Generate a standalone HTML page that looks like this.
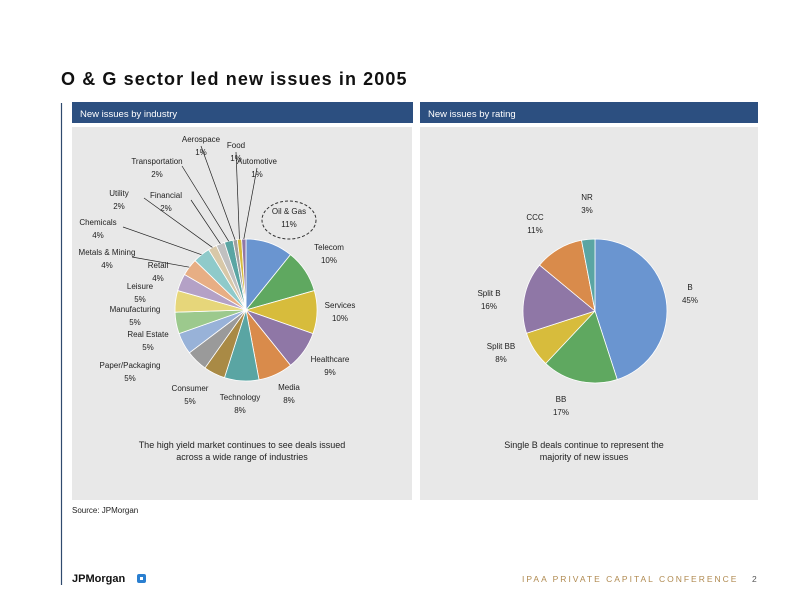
<!DOCTYPE html>
<html><head><meta charset="utf-8"><style>
body{margin:0;width:792px;height:612px;background:#fff;font-family:"Liberation Sans",sans-serif;position:relative;overflow:hidden}
svg{position:absolute;left:0;top:0}
</style></head><body>
<svg id="s" width="792" height="612" xmlns="http://www.w3.org/2000/svg" font-family="Liberation Sans, sans-serif">
<text x="61" y="85" font-size="18" font-weight="bold" letter-spacing="1.1" fill="#111">O &amp; G sector led new issues in 2005</text>
<line x1="61.5" y1="103" x2="61.5" y2="585" stroke="#2f4a6e" stroke-width="1.2"/>
<rect x="72" y="102" width="341" height="21" fill="#2c4f80"/>
<text x="80" y="117" font-size="9.5" fill="#fff">New issues by industry</text>
<rect x="72" y="127" width="340" height="373" fill="#e8e8e8"/>
<rect x="420" y="102" width="338" height="21" fill="#2c4f80"/>
<text x="428" y="117" font-size="9.5" fill="#fff">New issues by rating</text>
<rect x="420" y="127" width="338" height="373" fill="#e8e8e8"/>
<g id="left"></g><g id="right"></g>
<ellipse cx="289" cy="220" rx="27" ry="19" fill="none" stroke="#333" stroke-dasharray="3,2"/>
<text x="242" y="448" font-size="9" text-anchor="middle" fill="#222">The high yield market continues to see deals issued</text>
<text x="242" y="460" font-size="9" text-anchor="middle" fill="#222">across a wide range of industries</text>
<text x="584" y="448" font-size="9" text-anchor="middle" fill="#222">Single B deals continue to represent the</text>
<text x="584" y="460" font-size="9" text-anchor="middle" fill="#222">majority of new issues</text>
<text x="72" y="513" font-size="8" fill="#222">Source: JPMorgan</text>
<text x="72" y="582" font-size="11" font-weight="bold" fill="#111">JPMorgan</text>
<rect x="137" y="574" width="9" height="9" rx="2" fill="#2a7fd0"/><rect x="140" y="577" width="3" height="3" fill="#fff"/>
<text x="522" y="582" font-size="8.5" letter-spacing="2" fill="#b08a50">IPAA PRIVATE CAPITAL CONFERENCE</text>
<text x="752" y="582" font-size="8.5" fill="#555">2</text>
</svg>
<script>
const indCats=["Oil & Gas","Telecom","Services","Healthcare","Media","Technology","Consumer","Paper/Packaging","Real Estate","Manufacturing","Leisure","Retail","Metals & Mining","Chemicals","Utility","Financial","Transportation","Aerospace","Food","Automotive"];
const indVals=[11,10,10,9,8,8,5,5,5,5,5,4,4,4,2,2,2,1,1,1];
const indColors=["#6a95d0","#5fa860","#d7bc3c","#8f77a6","#d98b4b","#5aa5a3","#a98a45","#9a9a9a","#98b2d8","#9cc98d","#e6d67a","#b4a1c6","#e7ae84","#8fcaca","#d8c8a8","#c0c0c0","#5aa5a3","#a0a0a0","#d7bc3c","#8f77a6"];
const indLabelPos=[[289,214],[329,250],[340,308],[330,362],[289,390],[240,400],[190,391],[130,368],[148,337],[135,312],[140,289],[158,268],[107,255],[98,225],[119,196],[166,198],[157,164],[201,142],[236,148],[257,164]];
const ratCats=["B","BB","Split BB","Split B","CCC","NR"];
const ratVals=[45,17,8,16,11,3];
const ratColors=["#6a95d0","#5fa860","#d7bc3c","#8f77a6","#d98b4b","#5aa5a3"];
const ratLabelPos=[[690,290],[561,402],[501,349],[489,296],[535,220],[587,200]];
const NS="http://www.w3.org/2000/svg";
function pie(g,name,cx,cy,r,cats,vals,cols,lp,leaders){
  const tot=vals.reduce((a,b)=>a+b,0);let a=-Math.PI/2;
  vals.forEach((v,i)=>{
    const a2=a+v/tot*2*Math.PI;
    const x1=cx+r*Math.cos(a),y1=cy+r*Math.sin(a),x2=cx+r*Math.cos(a2),y2=cy+r*Math.sin(a2);
    const p=document.createElementNS(NS,"path");
    p.setAttribute("d",`M${cx},${cy}L${x1},${y1}A${r},${r} 0 ${a2-a>Math.PI?1:0} 1 ${x2},${y2}Z`);
    p.setAttribute("fill",cols[i]);p.setAttribute("stroke","#fff");p.setAttribute("stroke-width","0.8");
    
    
    g.appendChild(p);
    const m=(a+a2)/2;
    if(leaders&&i>=12){
      const l=document.createElementNS(NS,"line");
      l.setAttribute("x1",lp[i][0]+(i>=17?0:25));l.setAttribute("y1",lp[i][1]+(i>=17?4:2));
      l.setAttribute("x2",cx+r*Math.cos(m));l.setAttribute("y2",cy+r*Math.sin(m));
      l.setAttribute("stroke","#222");l.setAttribute("stroke-width","0.7");
      
      
      g.appendChild(l);
    }
    a=a2;
  });
  cats.forEach((c,i)=>{
    const t=document.createElementNS(NS,"text");
    t.setAttribute("x",lp[i][0]);t.setAttribute("y",lp[i][1]);t.setAttribute("font-size","8");t.setAttribute("text-anchor","middle");t.setAttribute("fill","#222");
    
    
    t.textContent=c;g.appendChild(t);
    const t2=t.cloneNode();t2.setAttribute("y",lp[i][1]+13);t2.textContent=vals[i]+"%";g.appendChild(t2);
  });
}
pie(document.getElementById("left"),"industry",246,310,71,indCats,indVals,indColors,indLabelPos,true);
pie(document.getElementById("right"),"rating",595,311,72,ratCats,ratVals,ratColors,ratLabelPos,false);
</script>
</body></html>
